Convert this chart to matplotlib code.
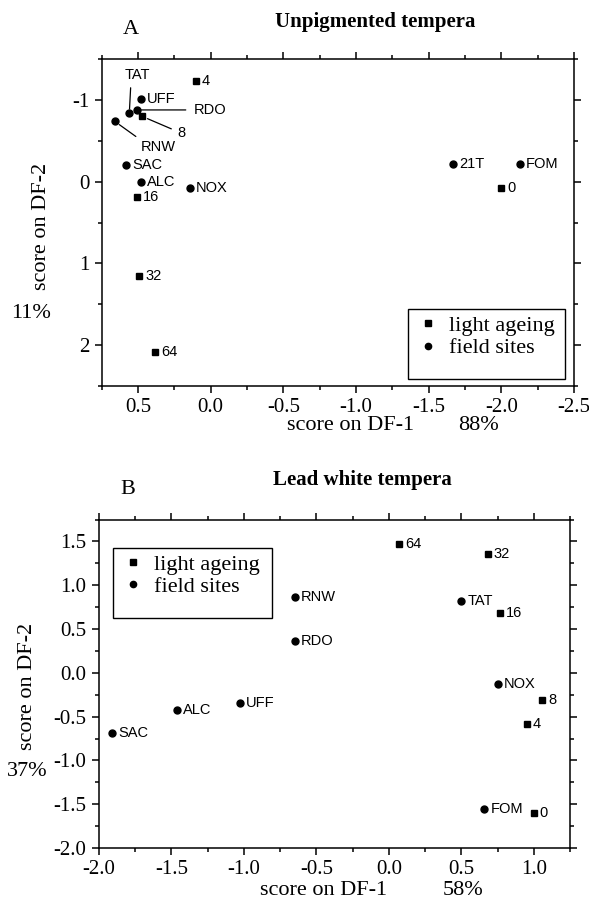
import matplotlib
matplotlib.use("Agg")
import matplotlib.pyplot as plt
from matplotlib.patches import Rectangle
from matplotlib.ticker import MultipleLocator

plt.rcParams['font.family'] = ['Liberation Serif', 'DejaVu Serif']
plt.rcParams['axes.unicode_minus'] = False

# ---- panel A : unpigmented tempera ----
a_ageing_labels = ['0', '4', '8', '16', '32', '64']
a_ageing_x = [-2.00, 0.10, 0.47, 0.51, 0.49, 0.38]
a_ageing_y = [0.08, -1.23, -0.80, 0.18, 1.15, 2.08]

a_site_labels = ['FOM', '21T', 'NOX', 'ALC', 'SAC', 'RNW', 'TAT', 'RDO', 'UFF']
a_site_x = [-2.13, -1.67, 0.14, 0.48, 0.58, 0.66, 0.56, 0.51, 0.48]
a_site_y = [-0.22, -0.22, 0.08, 0.00, -0.21, -0.74, -0.84, -0.88, -1.01]

# ---- panel B : lead white tempera ----
b_ageing_labels = ['0', '4', '8', '16', '32', '64']
b_ageing_x = [1.00, 0.95, 1.06, 0.77, 0.685, 0.07]
b_ageing_y = [-1.60, -0.585, -0.31, 0.685, 1.36, 1.466]

b_site_labels = ['FOM', 'NOX', 'TAT', 'RDO', 'RNW', 'UFF', 'ALC', 'SAC']
b_site_x = [0.66, 0.75, 0.50, -0.65, -0.65, -1.03, -1.46, -1.91]
b_site_y = [-1.56, -0.13, 0.82, 0.36, 0.87, -0.35, -0.43, -0.69]

# crowded labels in A get pulled out with a leader line
# label -> (text x, text y, ha, relpos, shrinkA, shrinkB)
a_leaders = {
    'TAT': (0.505, -1.305, 'center', (0.25, 0.0), 2, 3),
    'RDO': (0.119, -0.88, 'left', (0.0, 0.5), 3.5, 3.5),
    '8': (0.202, -0.60, 'center', (0.0, 0.6), 2.5, 4),
    'RNW': (0.364, -0.43, 'center', (0.0, 1.0), 1.5, 4),
}

LABEL_FONT = dict(family=['Liberation Sans', 'DejaVu Sans'], fontsize=10.5)


def style_axes(ax, xmaj, xmin, ymaj, ymin):
    ax.xaxis.set_major_locator(MultipleLocator(xmaj))
    ax.xaxis.set_minor_locator(MultipleLocator(xmin))
    ax.yaxis.set_major_locator(MultipleLocator(ymaj))
    ax.yaxis.set_minor_locator(MultipleLocator(ymin))
    ax.tick_params(which='both', direction='out', top=True, right=True,
                   labeltop=False, labelright=False, width=1.1, color='black')
    ax.tick_params(which='major', length=5, pad=4, labelsize=15)
    ax.tick_params(which='minor', length=3)
    for sp in ax.spines.values():
        sp.set_linewidth(1.1)


def draw_points(ax, xs, ys, labels, marker, leaders):
    ax.plot(xs, ys, linestyle='none', marker=marker, ms=5, color='black')
    for x, y, lab in zip(xs, ys, labels):
        if lab in leaders:
            tx, ty, ha, rp, sa, sb = leaders[lab]
            ax.annotate(lab, xy=(x, y), xytext=(tx, ty), ha=ha, va='center',
                        arrowprops=dict(arrowstyle='-', color='black', lw=0.9,
                                        relpos=rp, shrinkA=sa, shrinkB=sb),
                        **LABEL_FONT)
        else:
            ax.annotate(lab, xy=(x, y), xytext=(4.2, 0), textcoords='offset points',
                        ha='left', va='center', **LABEL_FONT)


def add_legend(ax, box):
    # box = (left, bottom, right, top) in axes fraction
    l, b, r, t = box
    h1, = ax.plot([], [], linestyle='none', marker='s', ms=4, color='black')
    h2, = ax.plot([], [], linestyle='none', marker='o', ms=4.5, color='black')
    ax.legend([h1, h2], ['light ageing', 'field sites'], loc='upper left',
              bbox_to_anchor=(l, t), bbox_transform=ax.transAxes, frameon=False,
              borderaxespad=0, borderpad=0.28, handlelength=1.2, handletextpad=0.35,
              labelspacing=0.09, fontsize=16)
    ax.add_patch(Rectangle((l, b), r - l, t - b, transform=ax.transAxes,
                           fill=False, edgecolor='black', lw=1.0, zorder=5))


W, H = 589, 900
fig = plt.figure(figsize=(W / 100, H / 100), dpi=100)


def px_axes(x0, y0, x1, y1):
    return fig.add_axes([x0 / W, 1 - y1 / H, (x1 - x0) / W, (y1 - y0) / H])


# panel A
ax_a = px_axes(101.7, 59.3, 574, 386)
draw_points(ax_a, a_ageing_x, a_ageing_y, a_ageing_labels, 's', a_leaders)
draw_points(ax_a, a_site_x, a_site_y, a_site_labels, 'o', a_leaders)
ax_a.set_xlim(0.75, -2.5)
ax_a.set_ylim(2.5, -1.5)
style_axes(ax_a, 0.5, 0.25, 1, 0.5)
add_legend(ax_a, (0.6485, 0.0214, 0.981, 0.2357))

# panel B
ax_b = px_axes(99, 519.5, 570, 848)
draw_points(ax_b, b_ageing_x, b_ageing_y, b_ageing_labels, 's', {})
draw_points(ax_b, b_site_x, b_site_y, b_site_labels, 'o', {})
ax_b.set_xlim(-2.0, 1.25)
ax_b.set_ylim(-2.0, 1.75)
style_axes(ax_b, 0.5, 0.25, 0.5, 0.25)
add_legend(ax_b, (0.0297, 0.701, 0.367, 0.914))


def ftext(x, y, s, **kw):
    fig.text(x / W, 1 - y / H, s, **kw)


# titles
ftext(131, 30, 'A', fontsize=16, ha='center', va='center')
ftext(275, 22, 'Unpigmented tempera', fontsize=15, fontweight='bold', ha='left', va='center')
ftext(128, 490, 'B', fontsize=16, ha='center', va='center')
ftext(273, 480, 'Lead white tempera', fontsize=15, fontweight='bold', ha='left', va='center')

# axis labels
ftext(287, 430, 'score on DF-1', fontsize=16, ha='left', va='baseline')
ftext(458, 430, '88%', fontsize=16, ha='left', va='baseline')
ftext(41, 226, 'score on DF-2', fontsize=16, ha='center', va='center', rotation=90)
ftext(31, 313, '11%', fontsize=16, ha='center', va='center')

ftext(260, 895, 'score on DF-1', fontsize=16, ha='left', va='baseline')
ftext(443, 895, '58%', fontsize=16, ha='left', va='baseline')
ftext(28, 686, 'score on DF-2', fontsize=16, ha='center', va='center', rotation=90)
ftext(27, 772, '37%', fontsize=16, ha='center', va='center')

fig.savefig('out.png', dpi=100)
